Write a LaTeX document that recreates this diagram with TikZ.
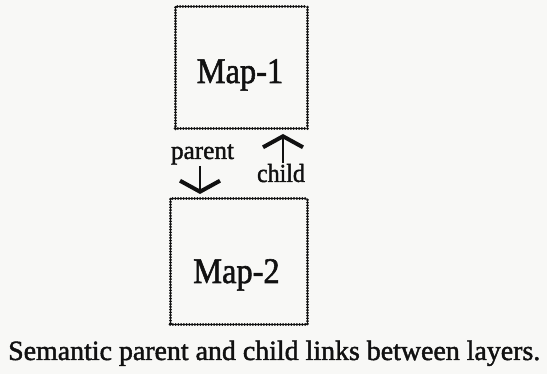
\documentclass[tikz,border=0pt]{standalone}
\usepackage{fontspec}
\setmainfont{Liberation Serif}
\newfontfamily\heavyserif[FakeBold=1.6]{Liberation Serif}
\usetikzlibrary{arrows.meta}
\definecolor{paper}{HTML}{F8F8F6}
\definecolor{ink}{HTML}{111111}
\tikzset{
  mapbox/.style={draw=ink, line width=3pt, line cap=round,
    dash pattern=on 0.01pt off 2.75pt, inner sep=0pt},
  maptext/.style={anchor=base, inner sep=0pt, text=ink, font=\heavyserif\fontsize{36}{40}\selectfont},
  link/.style={draw=ink, line width=1.4pt, shorten >=3.5pt,
    -{Straight Barb[length=11pt, width=40pt, line width=4pt]}},
  tag/.style={anchor=base, inner sep=0pt, text=ink, font=\heavyserif\fontsize{26}{30}\selectfont}
}
\begin{document}
\begin{tikzpicture}[x=1pt, y=-1pt]
  \fill[paper] (0,0) rectangle (547,374);
  \useasboundingbox (0,0) rectangle (547,374);
  % the two layers
  \node[mapbox, minimum width=132pt, minimum height=122pt] (m1) at (241,68) {};
  \node[mapbox, minimum width=137pt, minimum height=126pt] (m2) at (238.5,262) {};
  \node[maptext] (m1t) at (240,83) {\scalebox{0.9}[1]{Map-1}};
  \node[maptext] (m2t) at (236.5,283) {\scalebox{0.9}[1]{Map-2}};
  % link ends
  \coordinate (cstart) at (283,163);
  \coordinate (pstart) at (200,166);
  \draw[link] (cstart) -- (cstart |- m1.south);
  \draw[link] (pstart) -- (pstart |- m2.north);
  % link labels
  \node[tag] (ptag) at (202.5,159) {\scalebox{0.97}[1]{parent}};
  \node[tag] (ctag) at (281,182) {\scalebox{0.92}[1]{child}};
  % caption
  \node[text=ink, inner sep=0pt, anchor=base west] (cap) at (8,360)
    {\resizebox{532pt}{!}{\heavyserif\fontsize{24}{28}\selectfont Semantic parent and child links between layers.}};
\end{tikzpicture}
\end{document}
